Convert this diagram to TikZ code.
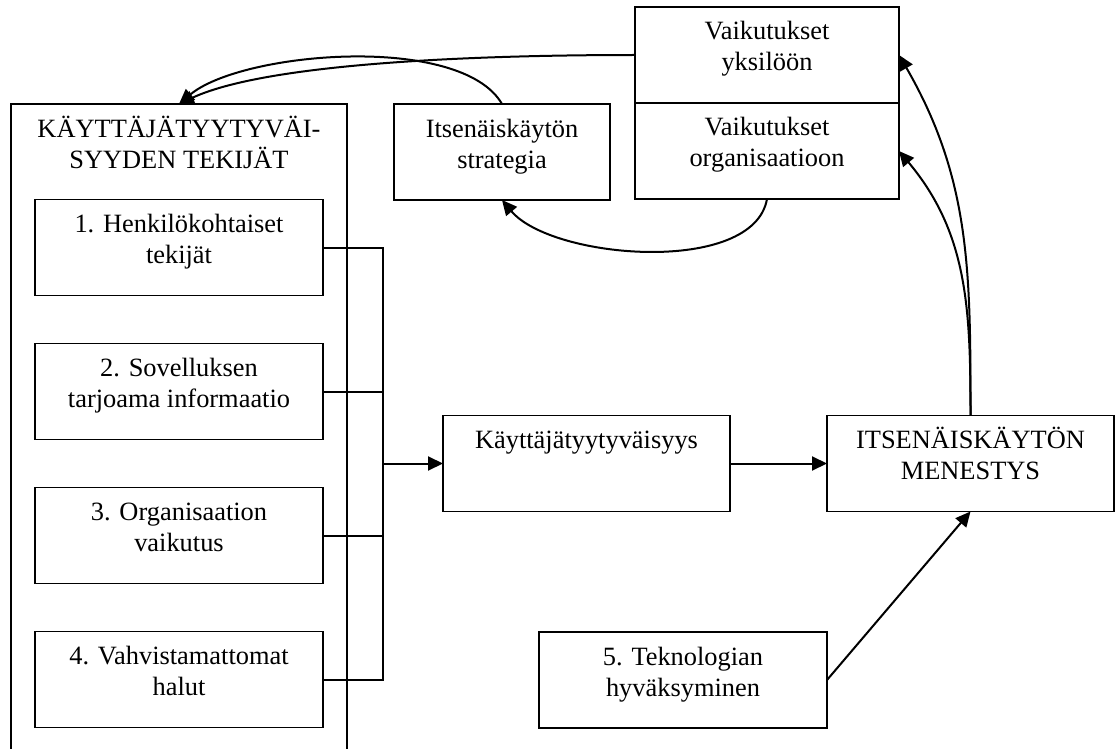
\documentclass[tikz,border=0pt]{standalone}
\usepackage{fontspec}
\setmainfont{Liberation Serif}
\usetikzlibrary{positioning,arrows.meta}
\begin{document}
\begin{tikzpicture}[
        x=1pt, y=1pt,
        every node/.style={font=\fontsize{26.4}{31}\selectfont},
        box/.style={draw, line width=1.5pt, outer sep=0pt, align=center,
            inner xsep=4pt, inner ysep=13pt, text height=20pt, text depth=50pt,
            minimum width=288pt},
        twoline/.style={box, text height=51pt, text depth=19pt},
        conn/.style={draw, line width=2pt},
        arr/.style={conn, -{Triangle[length=15pt,width=14pt]}},
        node distance=48pt
    ]
    \clip (0,0) rectangle (1117,-749);
    \node[twoline, minimum width=336pt, text depth=609pt] (outer) at (179,-447)
        {KÄYTTÄJÄTYYTYVÄI-\\SYYDEN TEKIJÄT};
    \node[twoline] (k1) at (179,-247.5) {1. Henkilökohtaiset\\tekijät};
    \node[twoline, below=of k1] (k2) {2. Sovelluksen\\tarjoama informaatio};
    \node[twoline, below=of k2] (k3) {3. Organisaation\\vaikutus};
    \node[twoline, below=of k3] (k4) {4. Vahvistamattomat\\halut};
    \node[box, minimum width=287pt] (tyyt) at (586.5,-463.5) {Käyttäjätyytyväisyys};
    \node[twoline, minimum width=287pt] (menestys) at (970.5,-463.5) {ITSENÄISKÄYTÖN\\MENESTYS};
    \node[twoline] (tekno) at (683,-680) {5. Teknologian\\hyväksyminen};
    \node[twoline, minimum width=216pt] (strat) at (502,-152) {Itsenäiskäytön\\strategia};
    \node[twoline, minimum width=264pt] (vyks) at (767,-55) {Vaikutukset\\yksilöön};
    \node[twoline, minimum width=264pt, below=0pt of vyks] (vorg) {Vaikutukset\\organisaatioon};

    \coordinate (bus) at (383,-463.5);
    \draw[conn] (k1.east) -| (bus);
    \draw[conn] (k4.east) -| (bus);
    \draw[conn] (k2.east) -- (k2.east -| bus);
    \draw[conn] (k3.east) -- (k3.east -| bus);
    \draw[arr] (bus) -- (tyyt.west);
    \draw[arr] (tyyt.east) -- (menestys.west);
    \draw[arr] (tekno.east) -- (menestys.south);
    \draw[arr] (menestys.north) to[out=90, in=-60] (vyks.east);
    \draw[arr] (menestys.north) to[out=90, in=-50] (vorg.east);
    \draw[arr] (vorg.south) to[out=-100, in=-50, looseness=0.75] (strat.south);
    \draw[arr] (strat.north) to[out=120, in=40, looseness=0.65] (outer.north);
    \draw[arr] (vyks.west) to[out=180, in=25, looseness=0.6] (outer.north);
\end{tikzpicture}
\end{document}
